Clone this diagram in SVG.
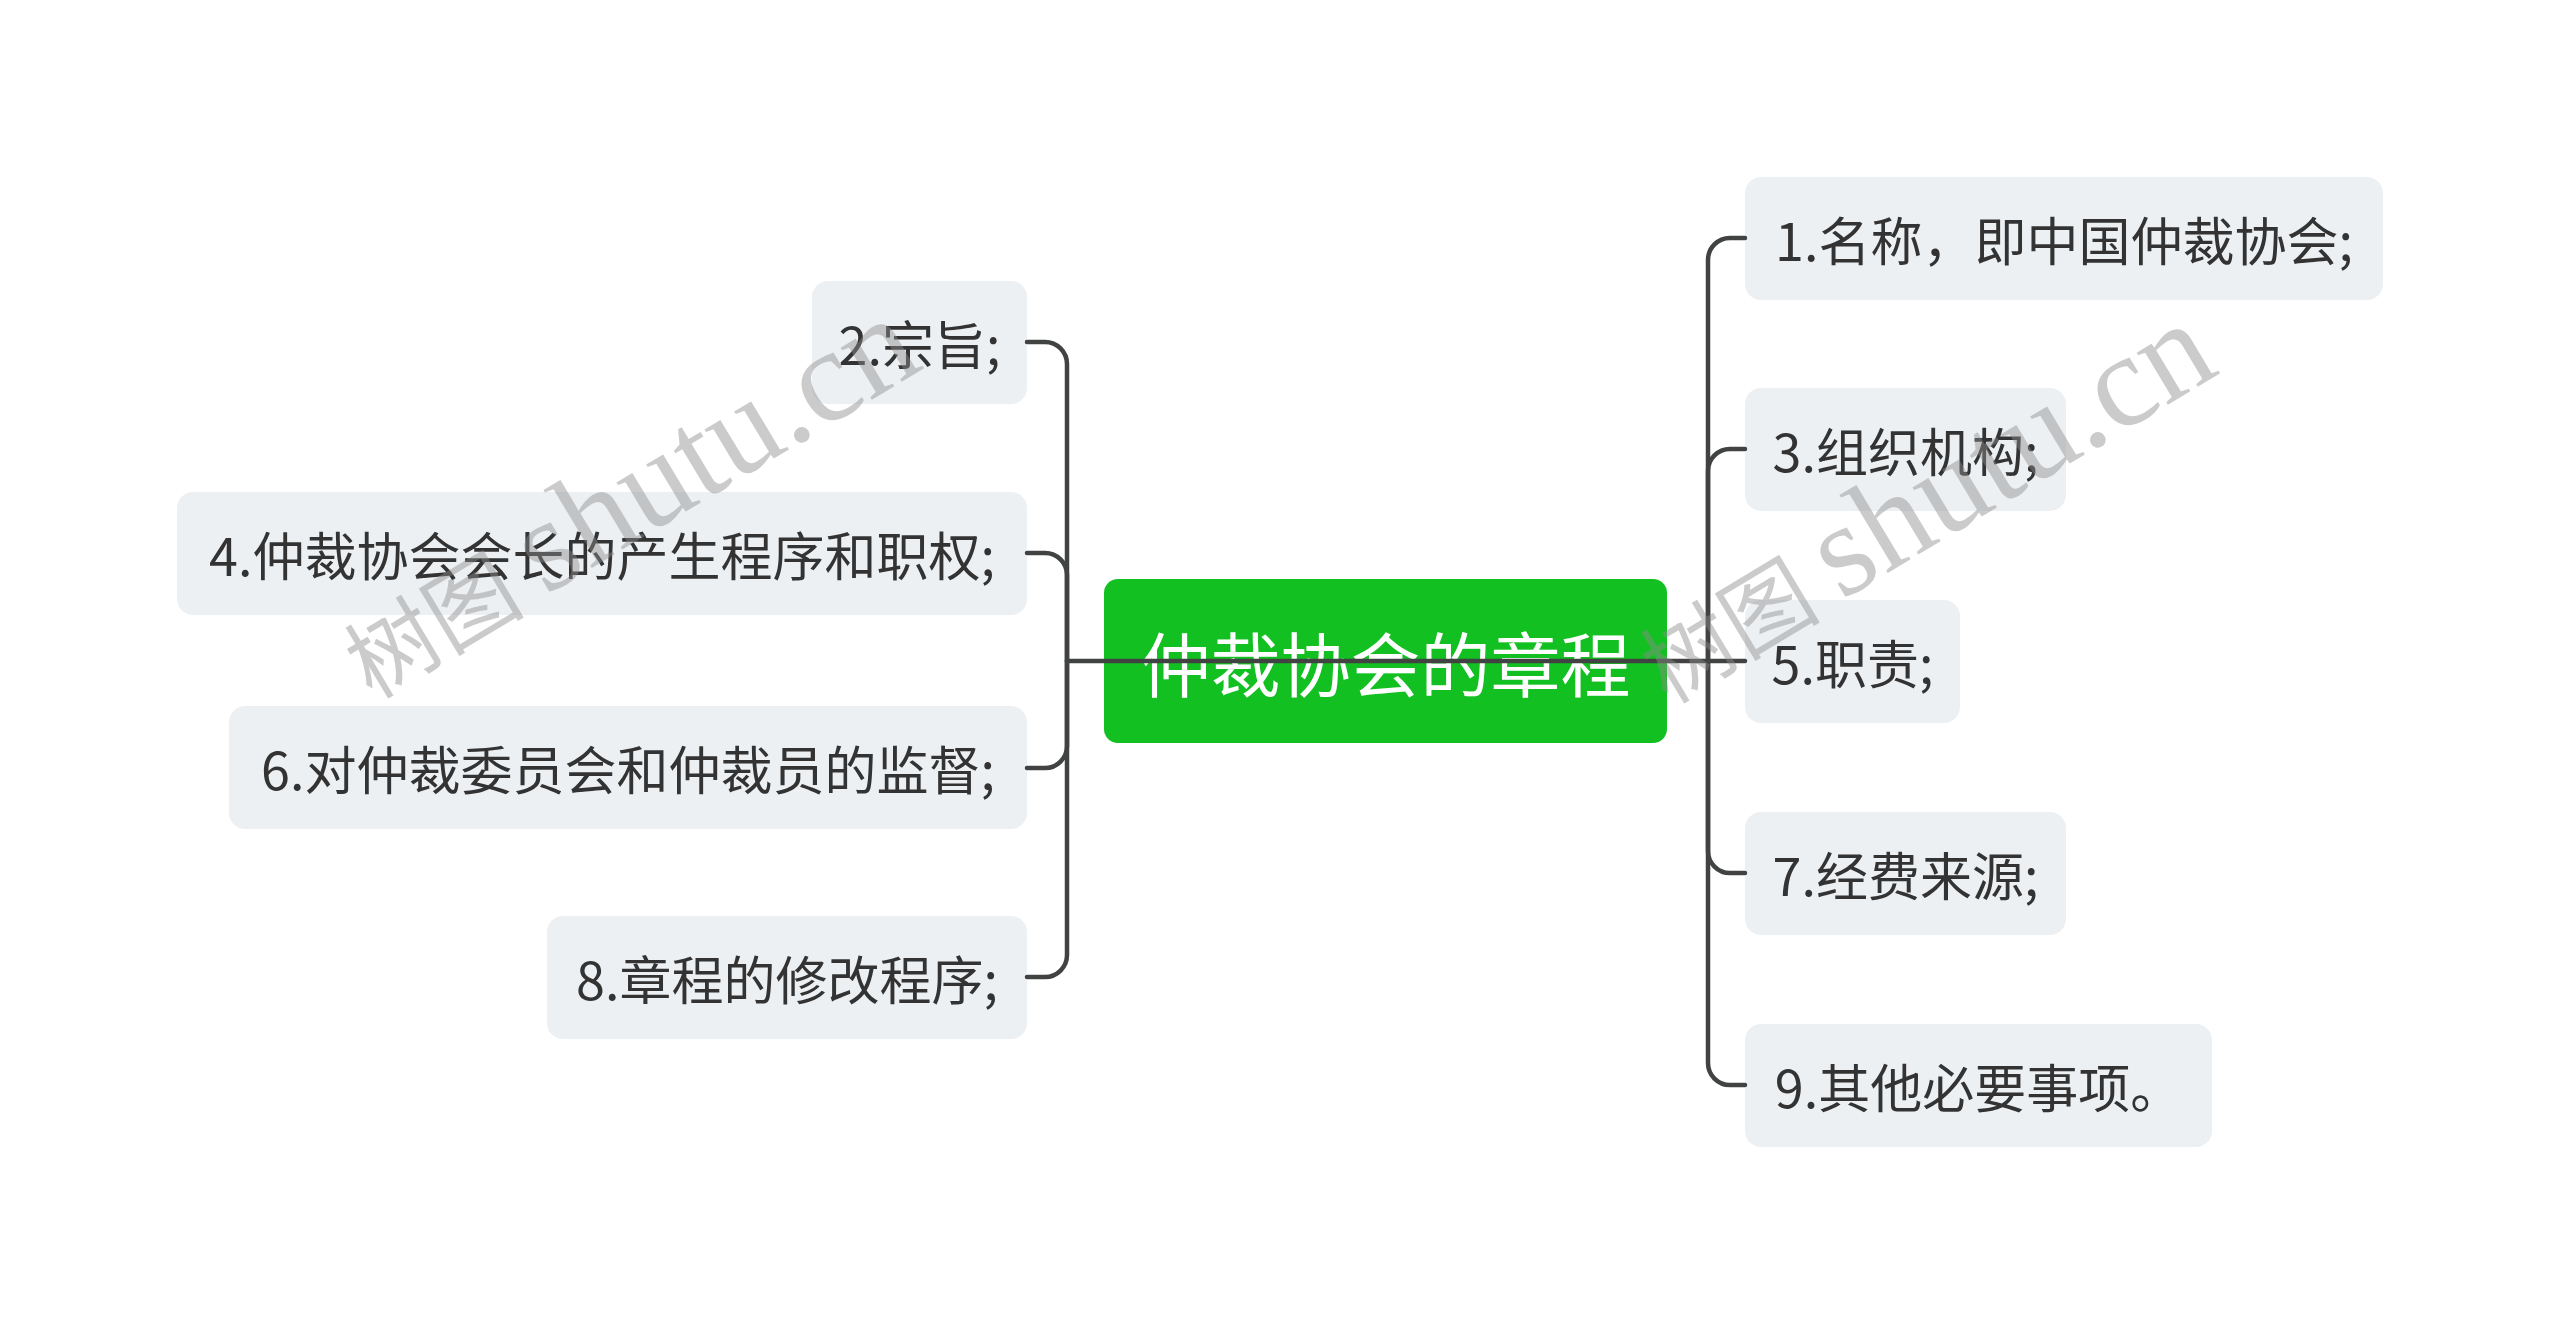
<svg xmlns="http://www.w3.org/2000/svg" width="2560" height="1323" viewBox="0 0 2560 1323">
<style>
.node rect.box{fill:#edf0f3}
.node text{font-family:"Noto Sans CJK SC","Noto Sans",sans-serif;font-size:52px;fill:#333333;text-anchor:middle;dominant-baseline:central}
#root rect{fill:#13c022}
#root text{font-family:"Noto Sans CJK SC","Noto Sans",sans-serif;font-size:70px;fill:#ffffff;text-anchor:middle;dominant-baseline:central}
#connectors path{fill:none;stroke:#404341;stroke-width:4.5;stroke-linecap:round}
.wm{font-family:"Liberation Serif","Noto Sans CJK SC",serif;fill:#8c8c8c;fill-opacity:0.45}
</style>
<rect width="2560" height="1323" fill="#ffffff"/>
<g id="root" class="node">
<rect x="1104" y="579" width="563" height="164" rx="14"/>
<text x="1385.5" y="661">仲裁协会的章程</text>
</g>
<g id="n2" class="node"><rect class="box" x="812" y="281" width="215" height="123" rx="16"/><text x="919.5" y="342.5">2.宗旨;</text></g>
<g id="n4" class="node"><rect class="box" x="177" y="492" width="850" height="123" rx="16"/><text x="602" y="553.5">4.仲裁协会会长的产生程序和职权;</text></g>
<g id="n6" class="node"><rect class="box" x="229" y="706" width="798" height="123" rx="16"/><text x="628" y="767.5">6.对仲裁委员会和仲裁员的监督;</text></g>
<g id="n8" class="node"><rect class="box" x="547" y="916" width="480" height="123" rx="16"/><text x="787" y="977.5">8.章程的修改程序;</text></g>
<g id="n1" class="node"><rect class="box" x="1745" y="177" width="638" height="123" rx="16"/><text x="2064" y="238.5">1.名称，即中国仲裁协会;</text></g>
<g id="n3" class="node"><rect class="box" x="1745" y="388" width="321" height="123" rx="16"/><text x="1905.5" y="449.5">3.组织机构;</text></g>
<g id="n5" class="node"><rect class="box" x="1745" y="600" width="215" height="123" rx="16"/><text x="1852.5" y="661.5">5.职责;</text></g>
<g id="n7" class="node"><rect class="box" x="1745" y="812" width="321" height="123" rx="16"/><text x="1905.5" y="873.5">7.经费来源;</text></g>
<g id="n9" class="node"><rect class="box" x="1745" y="1024" width="467" height="123" rx="16"/><text x="1978.5" y="1085.5">9.其他必要事项。</text></g>
<g id="connectors">
<path d="M1067,661 H1745"/>
<path d="M1067,661 V364 A22,22 0 0 0 1045,342 H1027"/>
<path d="M1067,661 V575 A22,22 0 0 0 1045,553 H1027"/>
<path d="M1067,661 V746 A22,22 0 0 1 1045,768 H1027"/>
<path d="M1067,661 V955 A22,22 0 0 1 1045,977 H1027"/>
<path d="M1708,661 V260 A22,22 0 0 1 1730,238 H1745"/>
<path d="M1708,661 V471 A22,22 0 0 1 1730,449 H1745"/>
<path d="M1708,661 V851 A22,22 0 0 0 1730,873 H1745"/>
<path d="M1708,661 V1063 A22,22 0 0 0 1730,1085 H1745"/>
</g>
<g id="watermark">
<text class="wm" x="372" y="700" transform="rotate(-31 372 700)"><tspan font-size="90">树图 </tspan><tspan font-size="132">shutu.cn</tspan></text>
<text class="wm" x="1668" y="705" transform="rotate(-31 1668 705)"><tspan font-size="90">树图 </tspan><tspan font-size="132">shutu.cn</tspan></text>
</g>
</svg>
